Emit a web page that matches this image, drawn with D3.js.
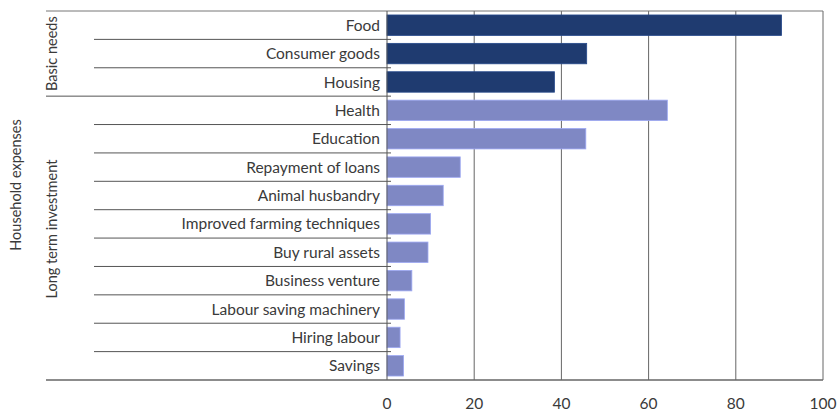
<!DOCTYPE html>
<html>
<head>
<meta charset="utf-8">
<script src="https://cdn.jsdelivr.net/npm/d3@7/dist/d3.min.js"></script>
<style>
  body { margin: 0; background: #fff; }
  svg text { font-family: Lato, "Open Sans", sans-serif; fill: #3a3a3a; }
</style>
</head>
<body>
<div id="chart"></div>
<script>
// Household expenses, percent of respondents

const basicNeeds = ['Food', 'Consumer goods', 'Housing'];
const basicValues = [90.5, 45.8, 38.4];

const longTerm = ['Health', 'Education', 'Repayment of loans', 'Animal husbandry',
  'Improved farming techniques', 'Buy rural assets', 'Business venture',
  'Labour saving machinery', 'Hiring labour', 'Savings'];
const longTermValues = [64.3, 45.6, 16.8, 12.9, 10.0, 9.4, 5.7, 4.0, 3.0, 3.8];

const xTicks = [0, 20, 40, 60, 80, 100];

const groups = [
  { name: 'Basic needs', items: basicNeeds, values: basicValues, color: '#1f3b70', labelShift: 0 },
  { name: 'Long term investment', items: longTerm, values: longTermValues, color: '#7f88c4', labelShift: -9 }
];

const rows = groups.flatMap(g => g.items.map((item, i) => ({ item, value: g.values[i], group: g.name, color: g.color })));

const width = 839;
const height = 413;
const margin = { top: 11, right: 16, bottom: 33, left: 387 };
const innerWidth = width - margin.left - margin.right;
const innerHeight = height - margin.top - margin.bottom;

const svg = d3.select('#chart').append('svg')
  .attr('width', width)
  .attr('height', height);

const x = d3.scaleLinear().domain([0, 100]).range([0, innerWidth]);
const y = d3.scaleBand().domain(rows.map(d => d.item)).range([0, innerHeight]).paddingInner(0.28).paddingOuter(0.14);
const step = y.step();

const g = svg.append('g').attr('transform', `translate(${margin.left},${margin.top})`);

// vertical gridlines
g.selectAll('.grid')
  .data(xTicks.slice(1))
  .enter()
  .append('line')
  .attr('x1', d => x(d)).attr('x2', d => x(d))
  .attr('y1', 0).attr('y2', innerHeight)
  .attr('stroke', '#666')
  .attr('stroke-width', 1);

// top frame
g.append('line')
  .attr('x1', 46 - margin.left).attr('x2', innerWidth)
  .attr('y1', 0).attr('y2', 0)
  .attr('stroke', '#777');

// row separators
const boundaries = [];
let idx = 0;
groups.forEach(grp => {
  grp.items.forEach((item, i) => {
    idx++;
    if (idx === rows.length) return;
    boundaries.push({ pos: idx, major: i === grp.items.length - 1 });
  });
});

g.selectAll('.sep')
  .data(boundaries)
  .enter()
  .append('line')
  .attr('x1', d => (d.major ? 46 : 94) - margin.left)
  .attr('x2', 0)
  .attr('y1', d => d.pos * step)
  .attr('y2', d => d.pos * step)
  .attr('stroke', '#555')
  .attr('stroke-width', 1);

// small ticks at row boundaries
g.selectAll('.tick-y')
  .data(boundaries)
  .enter()
  .append('line')
  .attr('x1', 0).attr('x2', 4)
  .attr('y1', d => d.pos * step)
  .attr('y2', d => d.pos * step)
  .attr('stroke', '#555');

// bars
g.selectAll('.bar')
  .data(rows)
  .enter()
  .append('rect')
  .attr('class', 'bar')
  .attr('x', 0)
  .attr('y', d => y(d.item))
  .attr('width', d => x(d.value))
  .attr('height', y.bandwidth())
  .attr('fill', d => d.color)
  .attr('stroke', d => d3.color(d.color).brighter(0.6))
  .attr('stroke-width', 0.8);

// y axis line
g.append('line')
  .attr('x1', 0).attr('x2', 0)
  .attr('y1', 0).attr('y2', innerHeight)
  .attr('stroke', '#555');

// bottom axis line
g.append('line')
  .attr('x1', 46 - margin.left).attr('x2', innerWidth)
  .attr('y1', innerHeight).attr('y2', innerHeight)
  .attr('stroke', '#666')
  .attr('stroke-width', 1.5);

// category labels
g.selectAll('.cat')
  .data(rows)
  .enter()
  .append('text')
  .attr('x', -7)
  .attr('y', d => y(d.item) + y.bandwidth() / 2)
  .attr('dy', '0.36em')
  .attr('text-anchor', 'end')
  .style('font-size', '15.5px')
  .text(d => d.item);

// x tick labels
g.selectAll('.xlab')
  .data(xTicks)
  .enter()
  .append('text')
  .attr('x', d => x(d))
  .attr('y', innerHeight + 29)
  .attr('text-anchor', 'middle')
  .style('font-size', '15.5px')
  .text(d => d);

// group labels
let start = 0;
groups.forEach(grp => {
  const y0 = start * step;
  const y1 = (start + grp.items.length) * step;
  start += grp.items.length;
  svg.append('text')
    .attr('transform', `translate(57, ${margin.top + (y0 + y1) / 2 + grp.labelShift}) rotate(-90)`)
    .attr('text-anchor', 'middle')
    .style('font-size', '14.5px')
    .text(grp.name);
});

svg.append('text')
  .attr('transform', `translate(21, 185) rotate(-90)`)
  .attr('text-anchor', 'middle')
  .style('font-size', '14.5px')
  .text('Household expenses');
</script>
</body>
</html>
